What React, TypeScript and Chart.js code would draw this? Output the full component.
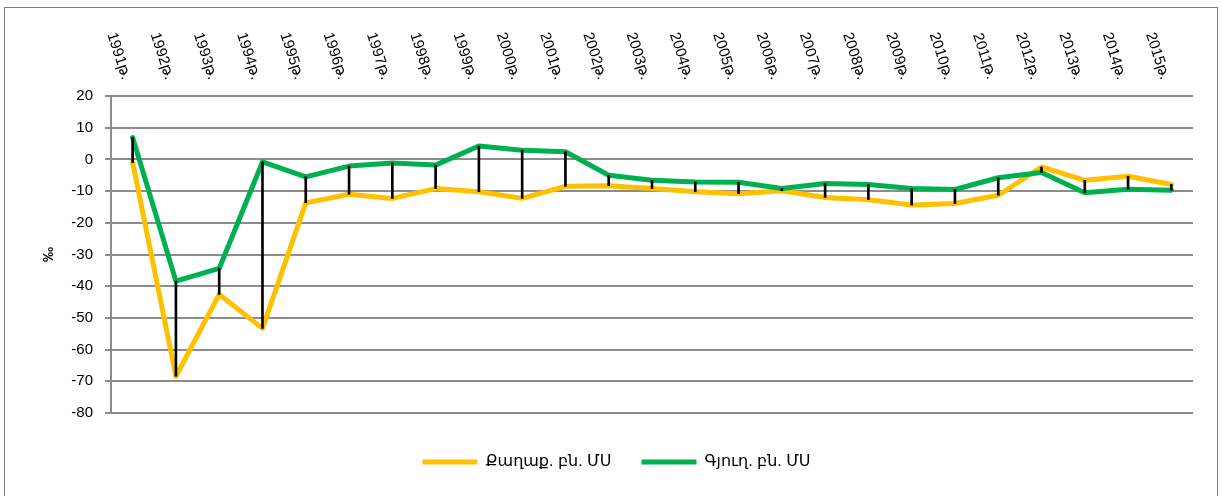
import React, { useEffect, useRef } from "react";
import { Chart, registerables } from "chart.js";

Chart.register(...registerables);

const years = [
  "1991թ.", "1992թ.", "1993թ.", "1994թ.", "1995թ.", "1996թ.", "1997թ.", "1998թ.",
  "1999թ.", "2000թ.", "2001թ.", "2002թ.", "2003թ.", "2004թ.", "2005թ.", "2006թ.",
  "2007թ.", "2008թ.", "2009թ.", "2010թ.", "2011թ.", "2012թ.", "2013թ.", "2014թ.", "2015թ.",
];

const urban = [
  -1, -68.4, -42.6, -53.3, -13.7, -11.0, -12.3, -9.2, -10.2, -12.3, -8.5, -8.3, -9.2,
  -10.2, -10.8, -9.9, -12.0, -12.7, -14.4, -13.9, -11.3, -2.4, -6.6, -5.3, -7.9,
];

const rural = [
  6.9, -38.4, -34.4, -0.8, -5.5, -2.1, -1.1, -1.8, 4.2, 2.9, 2.4, -5.0, -6.6,
  -7.1, -7.2, -9.2, -7.6, -7.9, -9.2, -9.5, -5.8, -4.1, -10.5, -9.4, -9.7,
];

const seriesNames = ["Քաղաք. բն. ՄՍ", "Գյուղ. բն. ՄՍ"];
const yTitle = "‰";

const FONT = '"Liberation Sans", "DejaVu Sans", sans-serif';
const GRID = "#8c8c8c";

const topLabels = {
  id: "topLabels",
  afterDraw(chart: any) {
    const ctx = chart.ctx;
    const xs = chart.scales.x;
    ctx.save();
    ctx.font = "15px " + FONT;
    ctx.fillStyle = "#000";
    ctx.textAlign = "center";
    ctx.textBaseline = "middle";
    years.forEach((lab, i) => {
      const x = xs.getPixelForValue(i);
      ctx.save();
      ctx.translate(x - 14, 48);
      ctx.rotate((72 * Math.PI) / 180);
      ctx.fillText(lab, 0, 0);
      ctx.restore();
    });
    ctx.restore();
  },
};

export default function App() {
  const ref = useRef<HTMLCanvasElement>(null);

  useEffect(() => {
    if (!ref.current) return;
    const ranges = urban.map((u, i) => [Math.min(u, rural[i]), Math.max(u, rural[i])]);
    const chart = new Chart(ref.current, {
      type: "line",
      data: {
        labels: years,
        datasets: [
          {
            label: seriesNames[0],
            data: urban,
            borderColor: "#FFC000",
            backgroundColor: "#FFC000",
            borderWidth: 5,
            pointRadius: 0,
            tension: 0,
            borderJoinStyle: "round",
            borderCapStyle: "round",
            order: 2,
          } as any,
          {
            label: seriesNames[1],
            data: rural,
            borderColor: "#00B050",
            backgroundColor: "#00B050",
            borderWidth: 5,
            pointRadius: 0,
            tension: 0,
            borderJoinStyle: "round",
            borderCapStyle: "round",
            order: 1,
          } as any,
          {
            type: "bar",
            label: "hl",
            data: ranges,
            backgroundColor: "#000",
            borderWidth: 0,
            barThickness: 2,
            order: 0,
          } as any,
        ],
      },
      options: {
        responsive: false,
        animation: false,
        events: [],
        layout: { padding: { left: 35, right: 24, top: 88, bottom: 16 } },
        scales: {
          x: {
            type: "category",
            position: "bottom",
            offset: true,
            grid: { display: false },
            border: { display: false },
            ticks: { display: false },
            afterFit: (s: any) => {
              s.height = 11;
            },
          },
          y: {
            min: -80,
            max: 20,
            ticks: {
              stepSize: 10,
              color: "#000",
              padding: 12,
              font: { family: FONT, size: 15 },
            },
            grid: { color: GRID, lineWidth: 2, tickLength: 6, tickColor: GRID },
            border: { display: true, color: GRID, width: 2 },
            title: {
              display: true,
              text: yTitle,
              color: "#000",
              font: { family: FONT, size: 15, weight: "bold" },
              padding: { top: 0, bottom: 0 },
            },
            afterFit: (s: any) => {
              s.width = 71;
            },
          },
        },
        plugins: {
          legend: {
            position: "bottom",
            labels: {
              usePointStyle: true,
              pointStyle: "line",
              pointStyleWidth: 55,
              padding: 30,
              color: "#000",
              font: { family: FONT, size: 16 },
              filter: (item: any) => item.datasetIndex < 2,
              sort: (a: any, b: any) => a.datasetIndex - b.datasetIndex,
            },
          },
          tooltip: { enabled: false },
        },
      },
      plugins: [topLabels],
    });
    return () => chart.destroy();
  }, []);

  return (
    <div
      style={{
        position: "absolute",
        left: 4,
        top: 7,
        width: 1212,
        height: 490,
        border: "1px solid #7f7f7f",
        background: "#fff",
      }}
    >
      <canvas ref={ref} width={1212} height={488} style={{ display: "block", width: 1212, height: 488 }} />
    </div>
  );
}
